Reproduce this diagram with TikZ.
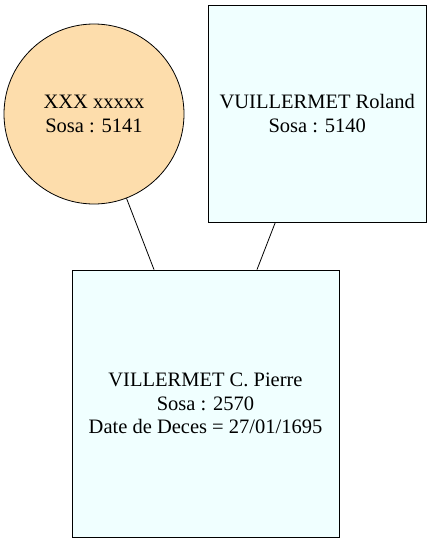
\documentclass[tikz,border=0pt]{standalone}
\usepackage{fontspec}
\setmainfont{Liberation Serif}
\definecolor{momfill}{HTML}{FDDDAC}
\definecolor{boxfill}{HTML}{F0FFFF}
\begin{document}
\begin{tikzpicture}[x=1pt,y=-1pt,
  person/.style={draw=black, line width=0.8pt, align=center, inner sep=0pt,
    font=\fontsize{20.5}{23.5}\selectfont},
  mother/.style={person, circle, fill=momfill, minimum size=180pt},
  father/.style={person, rectangle, fill=boxfill, minimum width=217.5pt, minimum height=217pt},
  child/.style={person, rectangle, fill=boxfill, minimum width=267pt, minimum height=267pt},
  link/.style={draw=black, line width=0.8pt}]
\useasboundingbox (0,0) rectangle (432,543);
\node[mother] (m) at (94,114) {XXX xxxxx\\Sosa : 5141};
\node[father] (f) at (317.25,113.5) {VUILLERMET Roland\\Sosa : 5140};
\node[child] (c) at (205.5,403.5) {VILLERMET C. Pierre\\Sosa : 2570\\Date de Deces = 27/01/1695};
\coordinate (cm) at ([xshift=-51.5pt]c.north);
\coordinate (cf) at ([xshift=51.5pt]c.north);
\draw[link] (m) -- (cm);
\draw[link] (f) -- (cf);
\end{tikzpicture}
\end{document}
